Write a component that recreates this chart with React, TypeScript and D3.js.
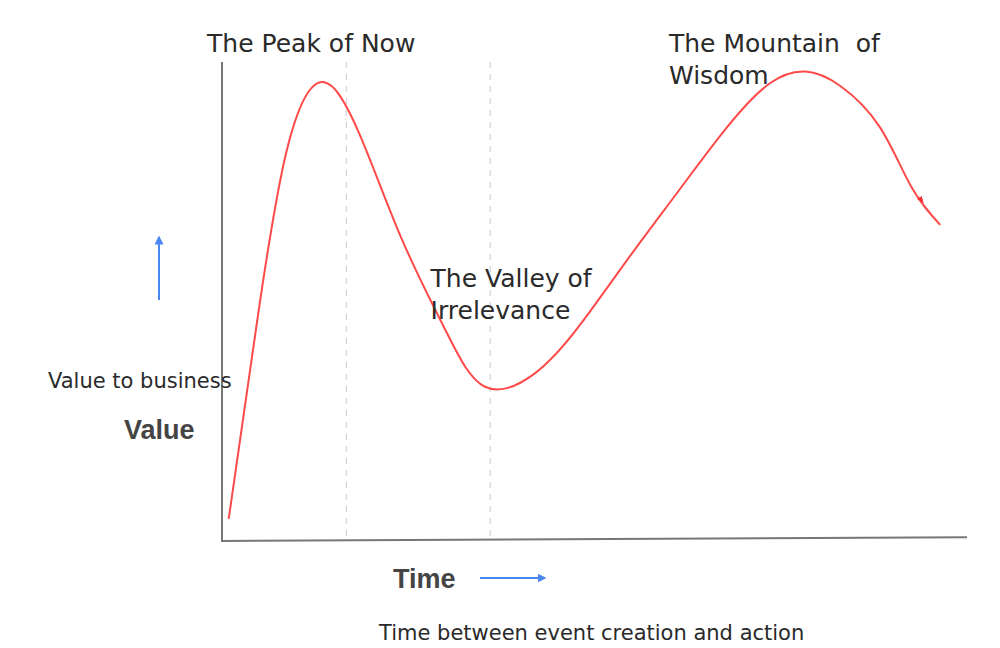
import React from "react";
import * as d3 from "d3";

// Curve samples: time (0-100) vs value to business (0-100)
const timeValues = [0.9, 4.8, 8.7, 13.4, 18.5, 24.0, 30.0, 35.3, 42.0, 48.0, 54.4, 61.0, 67.8, 73.5, 78.3, 83.0, 88.3, 92.5, 96.4];
const businessValues = [4.6, 46.8, 81.6, 95.8, 84.8, 63.5, 44.0, 32.2, 35.0, 45.0, 58.7, 72.5, 86.4, 95.5, 98.0, 95.0, 86.4, 74.0, 66.0];
// Dashed phase markers (time)
const phaseMarkers = [16.7, 36.0];
// Annotation labels
const annotationLines = [
  ["The Peak of Now"],
  ["The Mountain  of", "Wisdom"],
  ["The Valley of", "Irrelevance"],
];
const annotationTime = [-2.0, 60.0, 28.0];
const annotationValue = [102.0, 102.0, 53.0];

const W = 1000;
const H = 648;
const x = d3.scaleLinear().domain([0, 100]).range([222, 967]);
const y = d3.scaleLinear().domain([0, 100]).range([541, 62]);

export default function App() {
  const pts = timeValues.map((t, i) => [t, businessValues[i]] as [number, number]);
  const line = d3
    .line<[number, number]>()
    .x((d) => x(d[0]))
    .y((d) => y(d[1]))
    .curve(d3.curveNatural);
  const font = "'DejaVu Sans', sans-serif";
  const boldFont = "'Liberation Sans', Arial, sans-serif";
  const n = pts.length;
  const a = pts[n - 2];
  const b = pts[n - 1];
  const tip: [number, number] = [a[0] + (b[0] - a[0]) * 0.4, a[1] + (b[1] - a[1]) * 0.4];
  const arrowSeg: [number, number][] = [a, tip].map((d) => [x(d[0]), y(d[1])] as [number, number]);
  return (
    <svg width={W} height={H} style={{ position: "absolute", left: 0, top: 0, background: "#fff" }} fontFamily={font}>
      <defs>
        <marker id="blueHead" viewBox="0 0 10 10" refX="5" refY="5" markerWidth="4.5" markerHeight="4.5" orient="auto">
          <path d="M0,0 L10,5 L0,10 z" fill="#4a86f0" />
        </marker>
        <marker id="redHead" viewBox="0 0 10 10" refX="8" refY="5" markerWidth="7" markerHeight="7" markerUnits="userSpaceOnUse" orient="auto">
          <path d="M0,1 L10,5 L0,9 z" fill="#ff2e2e" />
        </marker>
      </defs>
      {/* dashed phase lines */}
      {phaseMarkers.map((t, i) => (
        <line key={i} x1={x(t)} x2={x(t)} y1={y(100)} y2={y(0)} stroke="#d6d6d6" strokeWidth={1.3} strokeDasharray="6,6" />
      ))}
      {/* axes */}
      <line x1={x(0)} x2={x(0)} y1={y(100)} y2={y(0) + 1} stroke="#777" strokeWidth={2} />
      <line x1={x(0)} x2={x(100)} y1={y(0)} y2={y(0.8)} stroke="#777" strokeWidth={2} />
      {/* curve */}
      <path d={line(pts) || ""} fill="none" stroke="#ff4a4a" strokeWidth={2} />
      <path d={d3.line()(arrowSeg) || ""} fill="none" stroke="none" markerEnd="url(#redHead)" />
      {/* annotations */}
      {annotationLines.map((lines, i) => (
        <text key={i} x={x(annotationTime[i])} y={y(annotationValue[i])} fontSize={25} fill="#2a2a2a">
          {lines.map((l, j) => (
            <tspan key={j} x={x(annotationTime[i])} dy={j === 0 ? 0 : 32} style={{ whiteSpace: "pre" }}>
              {l}
            </tspan>
          ))}
        </text>
      ))}
      {/* Y side labels */}
      <line x1={159} x2={159} y1={300} y2={240} stroke="#4a86f0" strokeWidth={2} markerEnd="url(#blueHead)" />
      <text x={48} y={388} fontSize={21} fill="#2a2a2a">Value to business</text>
      <text x={124} y={439} fontSize={27} fontWeight="bold" fill="#444" fontFamily={boldFont}>Value</text>
      {/* X side labels */}
      <text x={393} y={588} fontSize={27} fontWeight="bold" fill="#444" fontFamily={boldFont}>Time</text>
      <line x1={480} x2={542} y1={578} y2={578} stroke="#4a86f0" strokeWidth={2} markerEnd="url(#blueHead)" />
      <text x={379} y={640} fontSize={21} fill="#2a2a2a">Time between event creation and action</text>
    </svg>
  );
}
